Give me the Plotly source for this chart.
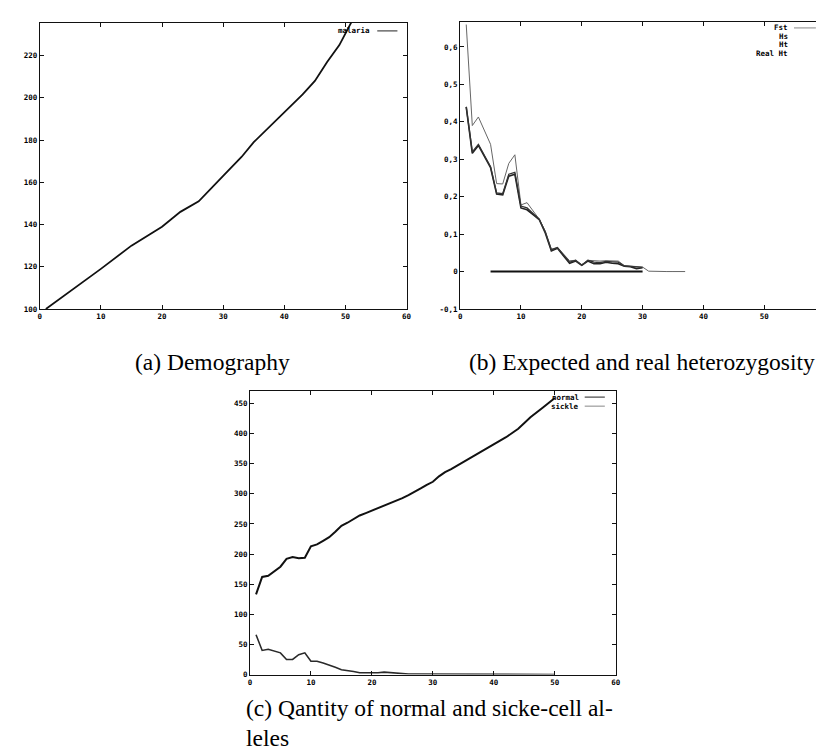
import plotly.graph_objects as go

# ---------------- data ----------------
# (a) Demography
demo_gen = [1, 10, 15, 20, 23, 26, 30, 33, 35, 38, 40, 43, 45, 47, 49, 50, 51]
demo_pop = [100, 119, 130, 139, 146, 151, 163, 172, 179, 187.5, 193, 201.6, 208, 217, 225, 230.5, 236]
demo_name = "malaria"

# (b) Expected and real heterozygosity
het_gen = list(range(1, 38))
ht = [0.66, 0.39, 0.413, 0.377, 0.34, 0.235, 0.234, 0.289, 0.312, 0.178, 0.184, 0.162, 0.14,
      0.108, 0.06, 0.064, 0.046, 0.029, 0.03, 0.018, 0.03, 0.029, 0.028, 0.029, 0.029, 0.028,
      0.016, 0.015, 0.013, 0.012, 0.001, 0, 0, 0, 0, 0, 0]
hs_gen = list(range(1, 31))
hs = [0.44, 0.316, 0.337, 0.307, 0.278, 0.207, 0.205, 0.255, 0.26, 0.17, 0.165, 0.152, 0.139,
      0.103, 0.055, 0.062, 0.043, 0.022, 0.028, 0.017, 0.028, 0.021, 0.021, 0.025, 0.022,
      0.021, 0.014, 0.013, 0.008, 0.01]
real_ht = [0.44, 0.32, 0.34, 0.312, 0.28, 0.21, 0.208, 0.26, 0.265, 0.175, 0.17, 0.155, 0.14,
           0.106, 0.058, 0.064, 0.045, 0.025, 0.03, 0.017, 0.03, 0.025, 0.024, 0.027, 0.026,
           0.025, 0.015, 0.014, 0.012, 0.011]
fst_gen = list(range(5, 31))
fst = [0] * 26
het_names = ["Fst", "Hs", "Ht", "Real Ht"]

# (c) Quantity of normal and sickle-cell alleles
normal_gen = list(range(1, 34)) + [35, 37, 40, 42, 44, 46, 48, 50]
normal = [133, 162, 164, 172, 179, 192, 195, 193, 194, 213, 216, 222, 228, 237, 247, 252, 258,
          264, 268, 272, 276, 280, 284, 288, 293, 298, 303, 309, 315, 320, 329, 336, 341,
          353, 365, 382, 394, 408, 427, 443, 459]
sickle_gen = list(range(1, 51))
sickle = [66, 40, 42, 39, 36, 25, 25, 33, 36, 22, 22, 19, 16, 12, 8, 7, 5, 3, 3, 2, 3, 4, 3, 2,
          2, 1, 1, 1, 1, 0] + [0] * 20
allele_names = ["normal", "sickle"]

x_ticks = [0, 10, 20, 30, 40, 50, 60]
a_yticks = [100, 120, 140, 160, 180, 200, 220]
b_yticks = [-0.1, 0, 0.1, 0.2, 0.3, 0.4, 0.5, 0.6]
b_yticktext = ["-0,1", "0", "0,1", "0,2", "0,3", "0,4", "0,5", "0,6"]
c_yticks = [0, 50, 100, 150, 200, 250, 300, 350, 400, 450]

captions = ["(a) Demography", "(b) Expected and real heterozygosity",
            "(c) Qantity of normal and sicke-cell al-", "leles"]

# ---------------- figure ----------------
W, H = 824, 752
def px(x): return x / W
def py(y): return 1 - y / H

fig = go.Figure()

fig.add_trace(go.Scatter(x=demo_gen, y=demo_pop, mode="lines", name=demo_name,
                         line=dict(color="#111", width=1.8), xaxis="x", yaxis="y"))

fig.add_trace(go.Scatter(x=fst_gen, y=fst, mode="lines", name=het_names[0],
                         line=dict(color="#111", width=2), xaxis="x2", yaxis="y2"))
fig.add_trace(go.Scatter(x=hs_gen, y=hs, mode="lines", name=het_names[1],
                         line=dict(color="#222", width=1.6), xaxis="x2", yaxis="y2"))
fig.add_trace(go.Scatter(x=het_gen, y=ht, mode="lines", name=het_names[2],
                         line=dict(color="#666", width=1), xaxis="x2", yaxis="y2"))
fig.add_trace(go.Scatter(x=hs_gen, y=real_ht, mode="lines", name=het_names[3],
                         line=dict(color="#333", width=1.3), xaxis="x2", yaxis="y2"))

fig.add_trace(go.Scatter(x=normal_gen, y=normal, mode="lines", name=allele_names[0],
                         line=dict(color="#111", width=2), xaxis="x3", yaxis="y3"))
fig.add_trace(go.Scatter(x=sickle_gen, y=sickle, mode="lines", name=allele_names[1],
                         line=dict(color="#2a2a2a", width=1.6), xaxis="x3", yaxis="y3"))

tickfont = dict(family="DejaVu Sans Mono", size=7.5, color="black", weight="bold")
common = dict(showline=True, linecolor="#111", linewidth=1, mirror="ticks", ticks="inside",
              ticklen=4, tickcolor="#111", showgrid=False, zeroline=False, tickfont=tickfont)

layout_axes = dict(
    xaxis=dict(domain=[px(30), px(400)], range=[0, 60], tickvals=x_ticks, anchor="y", **common),
    yaxis=dict(domain=[py(303), py(15)], range=[100, 235.5], tickvals=a_yticks, anchor="x", **common),
    xaxis2=dict(domain=[px(454), px(822)], range=[0, 60], tickvals=x_ticks, anchor="y2", **common),
    yaxis2=dict(domain=[py(303), py(14)], range=[-0.1, 0.667], tickvals=b_yticks,
                ticktext=b_yticktext, anchor="x2", **common),
    xaxis3=dict(domain=[px(242), px(611)], range=[0, 60], tickvals=x_ticks, anchor="y3", **common),
    yaxis3=dict(domain=[py(671), py(386)], range=[0, 470], tickvals=c_yticks, anchor="x3", **common),
)

legfont = dict(family="DejaVu Sans Mono", size=7.5, color="black", weight="bold")
annotations = []
shapes = []

def add_legend(xa, ya, names, colors, show_sample, top, step, text_right, s0, s1):
    for i, (n, c, s) in enumerate(zip(names, colors, show_sample)):
        yy = top - i * step
        annotations.append(dict(text=n, xref=xa + " domain", yref=ya + " domain", x=text_right,
                                y=yy, xanchor="right", yanchor="middle", showarrow=False,
                                font=legfont))
        if s:
            shapes.append(dict(type="line", xref=xa + " domain", yref=ya + " domain",
                               x0=s0, x1=s1, y0=yy, y1=yy, line=dict(color=c, width=1)))

add_legend("x", "y", [demo_name], ["#222"], [True], 0.972, 0.0, 0.905, 0.92, 0.975)
add_legend("x2", "y2", het_names, ["#888", "#222", "#666", "#333"],
           [True, False, False, False], 0.979, 0.0295, 0.905, 0.915, 0.975)
add_legend("x3", "y3", allele_names, ["#222", "#888"], [True, True], 0.980, 0.032, 0.905, 0.915, 0.97)

capfont = dict(family="Liberation Serif", size=23.5, color="black")
annotations.append(dict(text=captions[0], xref="paper", yref="paper", x=px(204), y=py(356),
                        xanchor="center", yanchor="middle", showarrow=False, font=capfont))
annotations.append(dict(text=captions[1], xref="paper", yref="paper", x=px(637), y=py(356),
                        xanchor="center", yanchor="middle", showarrow=False, font=capfont))
annotations.append(dict(text=captions[2], xref="paper", yref="paper", x=px(236), y=py(705),
                        xanchor="left", yanchor="middle", showarrow=False, font=capfont))
annotations.append(dict(text=captions[3], xref="paper", yref="paper", x=px(236), y=py(735),
                        xanchor="left", yanchor="middle", showarrow=False, font=capfont))

fig.update_layout(width=W, height=H, margin=dict(l=0, r=0, t=0, b=0),
                  paper_bgcolor="white", plot_bgcolor="white", showlegend=False,
                  annotations=annotations, shapes=shapes, **layout_axes)

fig.write_html("out.html")
